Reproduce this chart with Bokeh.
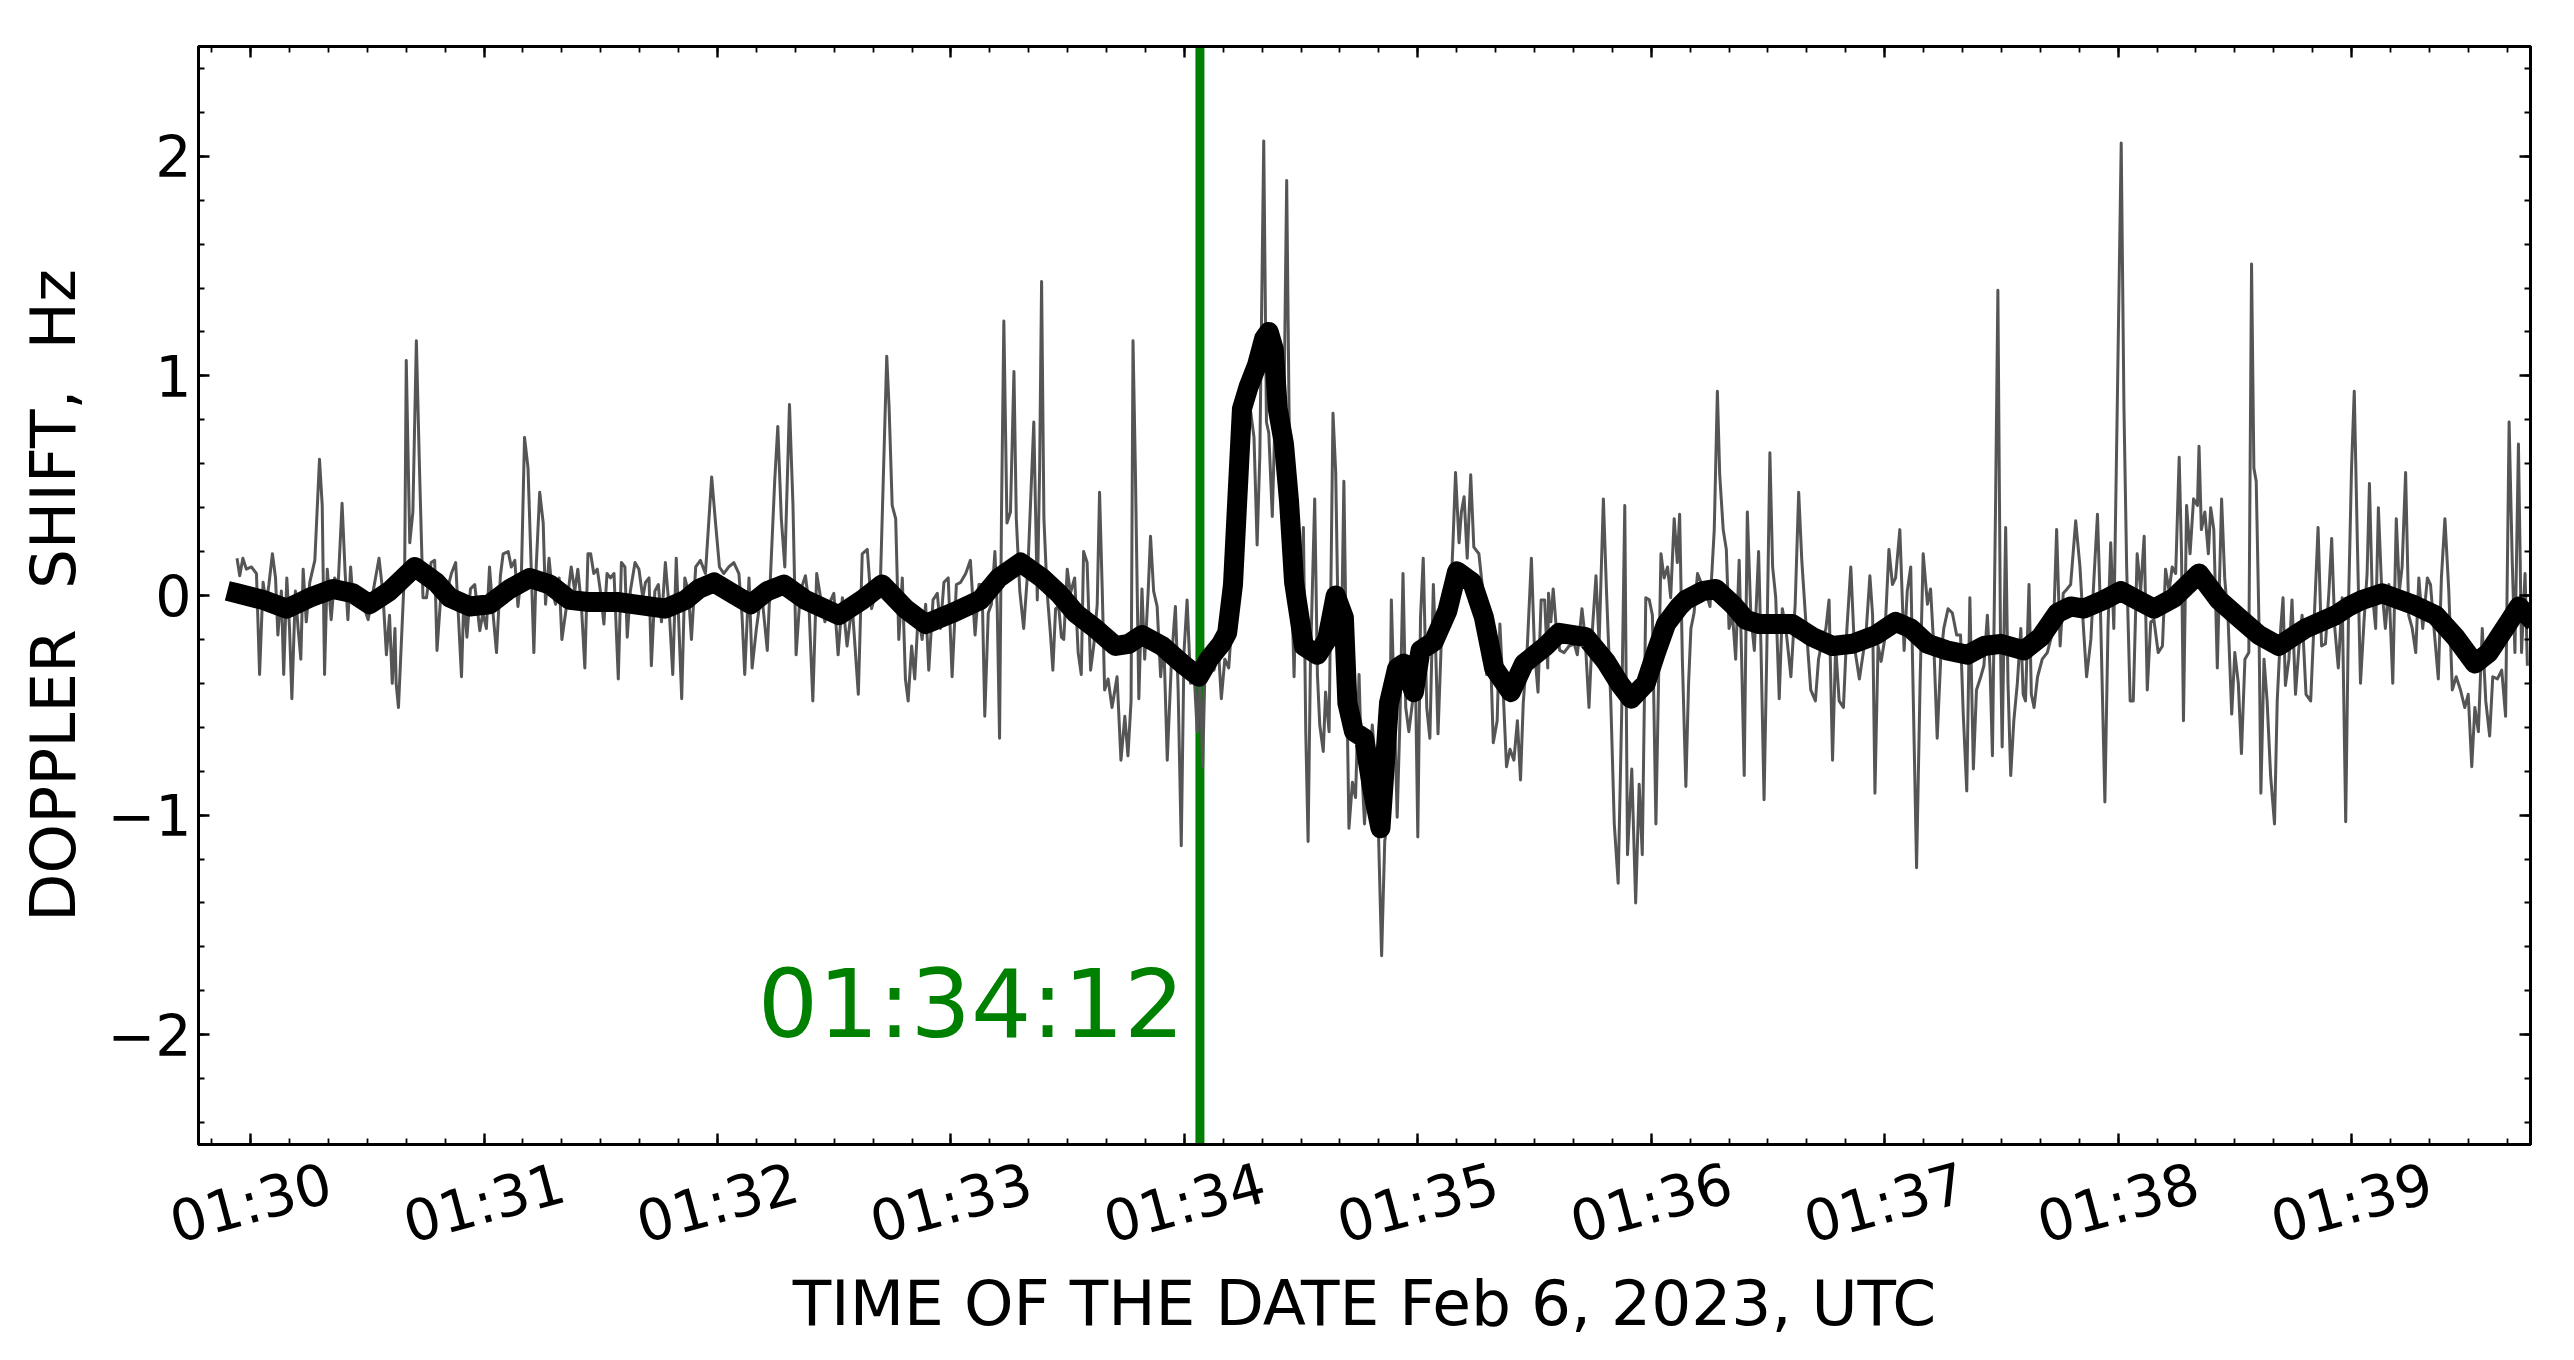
import math
from bokeh.plotting import figure
from bokeh.models import Range1d, LinearAxis, FixedTicker, Span, Label
from bokeh.embed import file_html
from bokeh.resources import INLINE

# Time is given in seconds after 01:30:00 UTC, Feb 6, 2023
x_tick_seconds = [0, 60, 120, 180, 240, 300, 360, 420, 480, 540]
x_tick_labels = ["01:30", "01:31", "01:32", "01:33", "01:34",
                 "01:35", "01:36", "01:37", "01:38", "01:39"]
y_ticks = [-2, -1, 0, 1, 2]
y_tick_labels = ["\u22122", "\u22121", "0", "1", "2"]

event_second = 244
event_label = "01:34:12"

x_title = "TIME OF THE DATE Feb 6, 2023, UTC"
y_title = "DOPPLER\u00a0 SHIFT,\u00a0 Hz"

# raw Doppler shift (grey)
gray_seconds = [
    -3.5, -2.8, -2.0, -1.1, 0.2, 1.5, 2.3, 3.2, 4.0, 4.7, 5.6, 6.4, 7.0, 7.9, 8.5, 9.3, 10.0, 10.6, 11.5, 12.2,
    12.9, 13.5, 14.3, 15.2, 16.5, 17.7, 18.4, 19.0, 19.7, 20.7, 21.6, 22.5, 23.5, 24.3, 25.0, 25.7, 26.3, 27.6,
    28.9, 30.2, 31.4, 33.0, 34.0, 34.9, 35.7, 36.4, 37.1, 37.4, 38.0, 38.7, 39.6, 40.0, 40.9, 41.7, 42.6, 43.4,
    44.3, 45.2, 46.4, 47.3, 47.9, 49.0, 50.3, 51.6, 52.7, 54.2, 54.8, 55.6, 56.5, 57.6, 58.9, 59.7, 60.6, 61.4,
    62.3, 63.2, 64.2, 64.9, 66.2, 67.0, 67.9, 68.7, 69.6, 70.4, 71.3, 72.2, 72.8, 73.4, 74.3, 75.2, 75.8, 76.7,
    77.5, 78.4, 79.3, 80.0, 81.1, 82.4, 83.3, 84.1, 85.0, 85.9, 86.7,
    87.4, 88.2, 89.1, 89.9, 90.8, 91.6, 92.5, 93.4, 94.5, 95.3, 96.2, 96.8, 97.6, 98.8, 99.8, 100.8, 101.5, 102.4,
    103.0, 103.9, 104.8, 105.6, 106.6, 107.5, 108.5, 109.4, 110.1, 110.8, 111.6, 112.5, 113.3, 114.4, 115.6,
    116.9, 118.5, 119.5, 120.5, 121.6, 122.9, 124.2, 125.5, 126.3, 127.0, 128.1, 128.9, 130.0, 131.3, 132.8,
    133.6, 134.7, 135.5, 136.4, 137.3, 138.5, 139.4, 140.2, 141.3, 142.6, 143.5, 144.5, 145.5, 146.5, 147.6,
    148.6, 149.9, 151.0, 152.1, 153.3, 154.6, 156.2, 157.2, 158.5, 159.6, 160.8, 161.9, 163.5, 164.1, 164.9,
    165.8, 166.6, 167.5, 168.3, 169.0, 169.9, 170.7, 171.6, 172.6, 173.5, 174.3, 175.4, 176.5, 177.3, 178.2,
    179.3, 180.3, 181.4, 182.5, 183.8, 185.0, 186.2, 187.2,
    188.0, 188.7, 189.6, 190.4, 191.3, 191.9, 192.5, 193.0, 193.6, 194.4, 195.3, 196.2, 196.8, 197.7, 198.7,
    199.8, 201.3, 202.2, 202.8, 203.3, 203.9, 204.7, 205.6, 206.2, 206.9, 207.7, 208.4, 209.0, 209.9, 210.7,
    211.8, 212.7, 213.5, 214.1, 215.0, 215.9, 216.7, 217.6, 218.2, 218.9, 219.5, 220.4, 221.4, 222.7, 223.7,
    224.7, 225.5, 226.3, 226.8, 227.4, 228.3, 229.1, 229.8, 230.7, 231.3, 232.1, 233.0, 233.9, 234.7, 235.6,
    236.7, 237.7, 238.4, 239.2, 239.9, 240.7, 241.6, 242.4, 243.3, 244.1, 244.7, 245.4, 246.3, 247.6, 248.8,
    249.5, 250.4, 251.4, 252.3, 253.6,
    254.9, 256.2, 257.9, 258.7, 259.4, 260.4, 261.1, 261.7, 262.6, 263.2, 264.3, 265.6, 266.3, 266.9, 267.5,
    268.2, 269.0, 269.9, 270.6, 271.2, 271.8, 272.4, 273.5, 274.2, 274.8, 275.7, 276.3, 277.2, 278.2, 278.9,
    279.5, 280.2, 281.0, 281.7, 282.3, 283.2, 284.0, 284.9, 285.5, 286.3, 287.0, 287.7, 288.3, 289.6, 290.7,
    291.5, 292.6, 293.2, 293.9, 294.7, 295.4, 296.2, 296.9, 297.7, 298.6, 299.3, 300.0, 300.7, 301.4, 302.3,
    303.1, 304.0, 304.6, 305.2, 306.0, 306.7, 307.6, 308.4, 309.0, 309.7, 310.6, 311.2, 311.9, 312.7, 313.6,
    314.4, 315.7, 316.6, 317.7, 318.5, 319.4, 320.4, 321.1, 322.0, 322.8, 323.7, 324.7, 325.6, 326.4, 327.1,
    328.1, 329.2, 330.0, 330.9, 331.7, 332.6, 333.4,
    333.6, 334.2, 334.8, 335.6, 336.5, 337.6, 338.9, 340.2, 341.0, 342.2, 343.0, 344.0, 344.9, 345.8, 346.6,
    347.7, 348.5, 349.6, 350.5, 351.5, 352.4, 353.2, 353.9, 355.0, 356.0, 356.9, 357.7, 358.6, 359.5, 360.3,
    361.2, 362.5, 363.3, 364.2, 365.0, 365.9, 366.7, 367.3, 368.0, 368.9, 369.6, 370.2, 371.0, 371.9, 373.0,
    374.0, 375.1, 376.2, 377.0, 377.6, 378.5, 379.3, 380.0, 380.9, 381.7, 382.6, 383.2, 383.9, 384.7, 385.6,
    386.5, 387.6, 388.2, 389.0, 389.7, 390.5, 391.2, 392.0, 392.9, 393.7, 394.6, 395.9, 397.0, 397.9, 398.7,
    399.7, 401.0, 402.2, 403.0, 404.0, 404.9, 405.7, 406.6, 407.4, 408.3, 409.4, 410.3, 411.3, 412.2, 413.5,
    414.5, 415.3, 416.2, 416.9, 417.5,
    418.3, 419.1, 420.0, 421.1, 422.0, 422.8, 423.9, 425.0, 425.8, 426.7, 427.4, 428.2, 429.1, 429.9, 431.0,
    431.8, 432.7, 433.5, 434.4, 435.2, 436.3, 437.4, 438.5, 439.5, 440.2, 441.1, 441.9, 442.8, 443.6, 444.7,
    445.5, 446.4, 447.1, 447.7, 448.5, 449.1, 449.8, 450.2, 451.1, 451.7, 452.4, 453.2, 454.1, 455.0, 455.6,
    456.2, 457.1, 457.7, 458.4, 459.3, 460.5, 461.8, 463.4, 464.2, 465.1, 465.9, 466.9, 467.8, 469.1, 470.2,
    471.1, 471.9, 473.0, 473.8, 474.7, 475.5, 476.6, 477.4, 478.1, 478.9, 479.8, 480.8, 481.5, 482.2, 483.1,
    483.9, 484.9, 485.8, 486.7, 487.5, 488.4, 489.2, 490.3, 491.4, 492.2, 493.1, 493.9, 494.8, 495.7, 496.3,
    496.8, 497.6, 498.5, 499.4, 500.4,
    500.8, 501.4, 502.3, 503.2, 503.8, 504.6, 505.5, 506.6, 507.4, 508.3, 509.2, 510.0, 510.9, 511.7, 512.6,
    513.6, 514.3, 514.9, 515.5, 516.2, 516.7, 517.5, 518.3, 519.2, 520.2, 520.9, 521.8, 522.4, 523.0, 523.9,
    524.7, 525.6, 526.5, 527.3, 528.3, 529.5, 530.3, 531.4, 532.3, 533.3, 534.2, 534.9, 535.7, 536.6, 537.6,
    538.5, 539.3, 540.0, 540.7, 541.5, 542.3, 543.2, 544.0, 544.6, 545.3, 546.2, 546.9, 547.7, 548.7, 549.6,
    550.6, 551.5, 552.3, 553.0, 553.9, 554.7, 555.6, 556.5, 557.3, 558.3, 559.5, 560.3, 561.2, 562.3, 563.1,
    564.0, 565.0, 565.9, 566.9, 568.0, 569.1, 570.0, 570.9, 571.7, 572.6, 573.6, 574.5, 575.5, 576.3, 577.5,
    578.6, 579.6, 580.5, 581.3, 582.0, 582.9, 583.7, 584.6, 585.2,
]
gray_doppler = [
    0.17, 0.09, 0.17, 0.12, 0.13, 0.10, -0.36, 0.06, -0.04, 0.05, 0.19, 0.08, -0.18, 0.02, -0.36, 0.08, -0.15, -0.47, 0.02, -0.15,
    -0.29, 0.12, -0.12, 0.06, 0.16, 0.62, 0.41, -0.36, 0.12, -0.11, 0.08, 0.05, 0.42, 0.10, -0.11, 0.13, -0.02, 0.02,
    -0.04, -0.11, 0.01, 0.17, 0.01, -0.27, -0.09, -0.40, -0.15, -0.40, -0.51, -0.23, 0.13, 1.07, 0.24, 0.38, 1.16, 0.58,
    -0.01, -0.01, 0.15, 0.16, -0.25, 0.03, 0.01, 0.10, 0.15, -0.37, -0.01, -0.19, 0.03, 0.05, -0.16, -0.08, -0.15, 0.13,
    -0.08, -0.26, 0.09, 0.19, 0.20, 0.13, 0.16, -0.05, 0.10, 0.72, 0.58, 0.08, -0.26, 0.13, 0.47, 0.33, -0.04, 0.17,
    0.02, -0.04, 0.08, -0.20, -0.06, 0.13, 0.02, 0.12, -0.04, -0.33, 0.19,
    0.19, 0.10, 0.12, 0.02, -0.13, 0.10, 0.08, 0.10, -0.38, 0.15, 0.13, -0.19, 0.02, 0.15, 0.12, -0.01, 0.06, 0.08,
    -0.32, 0.02, 0.05, -0.12, 0.15, -0.04, -0.36, 0.17, -0.15, -0.47, 0.08, 0.02, -0.20, 0.13, 0.16,
    0.10, 0.54, 0.33, 0.13, 0.10, 0.13, 0.15, 0.10, -0.09, -0.36, 0.08, -0.33, -0.15, 0.02, -0.25,
    0.08, 0.52, 0.77, 0.35, 0.13, 0.87, 0.41, -0.27, 0.02, 0.09, -0.04, -0.48, 0.10, -0.01, -0.12,
    -0.04, 0.01, -0.27, -0.01, -0.23, -0.04, -0.45, 0.19, 0.21, -0.06, 0.02, 0.08, 1.09, 0.86, 0.41,
    0.35, -0.20, 0.08, -0.38, -0.48, -0.23, -0.38, -0.08, -0.20, -0.04, -0.34, -0.02, 0.01, -0.15, 0.06,
    0.08, -0.37, 0.05, 0.06, 0.10, 0.16, -0.18, 0.05,
    0.05, -0.55, -0.08, -0.04, 0.20, -0.06, -0.65, 0.38, 1.25, 0.33, 0.38, 1.02, 0.35, 0.02, -0.15,
    0.13, 0.79, -0.02, 0.58, 1.43, 0.35, 0.02, -0.18, -0.34, -0.06, -0.05, -0.19, -0.20, 0.12, 0.01,
    0.08, -0.26, -0.36, 0.20, 0.15, -0.34, -0.23, -0.04, 0.47, 0.02, -0.43, -0.38, -0.51, -0.37, -0.75,
    -0.55, -0.73, -0.48, 1.16, 0.58, -0.47, 0.03, -0.29, 0.02, 0.27, 0.02, -0.05, -0.37, -0.20, -0.75,
    -0.29, -0.05, -0.43, -1.14, -0.26, -0.02, -0.40, -0.32, -0.62, -0.37, -0.78, -0.26, -0.23, -0.34, -0.26,
    -0.47, -0.29, -0.33, -0.10, 0.43,
    0.90, 0.95, 0.72, 0.23, 0.64, 2.07, 0.79, 0.74, 0.36, 0.74, 0.90, 0.85, 1.89, 0.85, 0.09,
    -0.37, 0.27, -0.04, 0.31, -0.62, -1.12, -0.31, 0.44, -0.36, -0.59, -0.71, -0.44, -0.62, 0.83, 0.56,
    -0.10, -0.41, 0.52, -0.36, -1.06, -0.85, -0.92, -0.36, -0.75, -1.04, -0.83, -0.75, -0.59, -0.88, -1.64,
    -1.12, -0.96, -0.02, -0.46, -1.01, -0.57, 0.10, -0.51, -0.62, -0.49, -0.25, -1.10, -0.10, 0.17, -0.51,
    -0.65, 0.05, -0.25, -0.63, -0.23, -0.04, 0.01, -0.02, 0.22, 0.56, 0.24, 0.38, 0.45, 0.17, 0.55,
    0.22, 0.19, 0.04, -0.36, -0.16, -0.67, -0.57, -0.13, -0.46, -0.78, -0.70, -0.75, -0.57, -0.84, -0.49,
    -0.25, 0.17, -0.25, -0.44, -0.02, -0.02, -0.33,
    0.01, -0.12, 0.03, -0.15, -0.25, -0.26, -0.23, -0.22, -0.27, -0.06, -0.19, -0.51, -0.15, 0.09, -0.22,
    0.44, 0.02, -0.48, -1.04, -1.31, -0.54, 0.41, -1.18, -0.79, -1.40, -0.86, -1.18, -0.01, -0.02, -0.09,
    -1.04, 0.19, 0.08, 0.13, -0.01, 0.35, 0.15, 0.37, -0.29, -0.87, -0.40, -0.15, -0.08, 0.10, 0.05,
    0.02, -0.05, 0.30, 0.93, 0.55, 0.30, 0.21, -0.15, -0.09, -0.29, 0.16, -0.26, -0.82, 0.38, -0.09,
    -0.25, 0.20, -0.23, -0.93, -0.26, 0.65, 0.13, -0.01, -0.47, -0.06, -0.15, -0.37, -0.04, 0.47, 0.16,
    -0.11, -0.43, -0.48, -0.29, -0.20, -0.15, -0.02, -0.75, -0.23, -0.48, -0.51, -0.15, 0.13, -0.23, -0.38,
    -0.26, -0.15, 0.09, -0.09, -0.90,
    -0.23, -0.30, -0.20, 0.21, 0.05, 0.08, 0.30, -0.25, 0.02, 0.13, -0.51, -1.24, -0.40, 0.19, -0.04,
    0.03, -0.26, -0.65, -0.29, -0.15, -0.06, -0.08, -0.18, -0.18, -0.54, -0.89, -0.01, -0.79, -0.43, -0.37,
    -0.32, -0.09, -0.34, -0.73, 0.41, 1.39, -0.26, -0.69, 0.31, -0.40, -0.82, -0.57, -0.40, -0.15, -0.45,
    -0.48, 0.05, -0.45, -0.51, -0.37, -0.29, -0.26, -0.15, 0.30, -0.23, 0.01, 0.03, 0.05, 0.34, 0.13,
    -0.15, -0.37, -0.20, 0.08, 0.37, -0.09, -0.94, -0.15, 0.24, -0.15, 0.88, 2.06, 0.86, 0.13, -0.48,
    -0.48, 0.19, 0.02, 0.27, -0.43, -0.12, -0.11, -0.26, -0.23, 0.12, 0.02, 0.13, 0.10, 0.63, 0.19,
    -0.57, 0.41, 0.19, 0.44, 0.41,
    0.68, 0.30, 0.38, 0.19, 0.40, 0.30, -0.33, 0.44, 0.08, -0.12, -0.54, -0.26, -0.40, -0.72, -0.29,
    -0.26, 1.51, 0.58, 0.52, -0.12, -0.90, -0.29, -0.48, -0.82, -1.04, -0.48, -0.15, -0.01, -0.41, -0.29,
    -0.02, -0.45, -0.23, -0.09, -0.45, -0.48, -0.15, 0.31, -0.23, -0.22, 0.02, 0.26, -0.15, -0.33, -0.01,
    -1.03, 0.02, 0.58, 0.93, 0.24, -0.40, -0.12, 0.10, 0.51, 0.02, -0.15, 0.40, 0.05, -0.15, 0.05,
    -0.40, 0.35, 0.02, 0.13, 0.56, -0.09, -0.15, -0.26, 0.08, -0.15, 0.08, 0.05, -0.15, -0.38, 0.08,
    0.35, 0.02, -0.43, -0.37, -0.43, -0.51, -0.45, -0.78, -0.51, -0.62, -0.15, -0.48, -0.64, -0.37, -0.38,
    -0.34, -0.55, 0.79, 0.16, -0.26, 0.69, -0.26, 0.10, -0.32,
]

# smoothed Doppler shift (black)
smooth_seconds = [
    -3.5, 3.2, 9.2, 15.2, 21.2, 26.3, 30.6, 35.7, 42.2, 47.7, 51.2, 56.3, 61.4, 66.6, 71.7, 76.9, 82.0, 87.1,
    94.6, 106.6, 111.8, 115.2, 119.1, 123.8, 128.5, 132.8, 137.1, 142.6, 151.2, 157.2, 162.3, 168.3, 173.5, 180.3,
    187.6, 192.3, 197.9, 203.4, 207.7, 212.0, 217.1, 222.3, 225.7, 229.1, 234.3, 239.4, 243.7, 246.3, 249.5, 251.0, 252.5,
    253.5, 254.8, 256.5, 258.7, 260.5, 261.7, 263.0, 264.0, 265.6, 266.9, 268.2, 270.7, 274.2, 276.7,
    278.9, 281.0, 281.9, 283.6, 286.2, 288.3, 290.4, 291.3, 292.6, 294.7, 296.4, 299.0, 300.7, 304.1,
    307.6, 310.1, 314.0, 317.0, 319.6, 323.9, 327.3, 332.9, 336.3, 343.2, 348.3, 351.8, 354.8, 358.6, 361.2, 363.8,
    367.2, 368.9, 373.2, 376.6, 380.9, 384.3, 387.7, 396.3, 401.5, 406.6, 411.7, 417.7, 422.8, 426.7, 431.0, 436.1,
    441.3, 445.5, 449.8, 455.8,
    460.1, 464.4, 467.8, 471.2, 476.4, 480.7, 484.9, 489.2, 494.4, 500.8, 505.9, 511.0, 516.2, 521.3, 524.7, 528.2,
    535.9, 539.3, 542.7, 547.9, 555.6,
    561.6, 566.7, 571.7, 575.3, 580.5, 583.0, 585.2,
]
smooth_doppler = [
    0.01, -0.02, -0.06, -0.01, 0.03, 0.01, -0.04, 0.02, 0.13, 0.06, -0.01, -0.05, -0.04, 0.03, 0.08, 0.05, -0.02, -0.03,
    -0.03, -0.06, -0.02, 0.03, 0.06, 0.01, -0.04, 0.02, 0.05, -0.02, -0.09, -0.02, 0.05, -0.06, -0.13, -0.08,
    -0.02, 0.08, 0.15, 0.08, 0.01, -0.08, -0.15, -0.23, -0.22, -0.18, -0.23, -0.31, -0.37, -0.29, -0.22, -0.17, 0.05,
    0.40, 0.85, 0.95, 1.05, 1.17, 1.20, 1.12, 0.85, 0.69, 0.43, 0.06, -0.23, -0.27, -0.20,
    0.00, -0.10, -0.49, -0.62, -0.65, -0.88, -1.06, -0.83, -0.49, -0.33, -0.31, -0.44, -0.25, -0.21,
    -0.07, 0.11, 0.06, -0.10, -0.33, -0.44, -0.31, -0.23, -0.17, -0.19, -0.30, -0.40, -0.47, -0.40, -0.26, -0.13,
    -0.05, -0.02, 0.02, 0.03, -0.04, -0.11, -0.13, -0.13, -0.19, -0.23, -0.22, -0.18, -0.12, -0.15, -0.22, -0.25,
    -0.27, -0.23, -0.22, -0.25,
    -0.19, -0.08, -0.05, -0.06, -0.02, 0.02, -0.02, -0.06, -0.01, 0.10, -0.02, -0.10, -0.18, -0.23, -0.19, -0.15,
    -0.09, -0.05, -0.02, 0.01, -0.04,
    -0.09, -0.19, -0.31, -0.26, -0.12, -0.05, -0.09,
]

FONT = "DejaVu Sans"
# Bokeh anchors a rotated bottom-axis label at its right end; shifting the label
# axis by this many seconds centres each slanted label under its tick mark.
LABEL_SHIFT_S = 20.4

p = figure(
    frame_width=2332, frame_height=1098,
    x_range=Range1d(-13.4, 586.0), y_range=Range1d(-2.5, 2.5),
    output_backend="svg", toolbar_location=None,
    min_border_left=198, min_border_top=46, min_border_right=30, min_border_bottom=214,
    background_fill_color="white", border_fill_color="white",
)
bottom_axis = p.below[0]
left_axis = p.left[0]
p.xgrid.visible = False
p.ygrid.visible = False
p.outline_line_color = "black"
p.outline_line_width = 3

x_minor = [s for s in range(-10, 590, 10)]
y_minor = [round(-2.4 + 0.2 * i, 1) for i in range(25)]

top_axis = LinearAxis()
right_axis = LinearAxis()
p.add_layout(top_axis, "above")
p.add_layout(right_axis, "right")

for ax in [bottom_axis, top_axis]:
    ax.ticker = FixedTicker(ticks=x_tick_seconds, minor_ticks=x_minor)
for ax in [left_axis, right_axis]:
    ax.ticker = FixedTicker(ticks=y_ticks, minor_ticks=y_minor)

for ax in [bottom_axis, left_axis, top_axis, right_axis]:
    ax.axis_line_color = "black"
    ax.axis_line_width = 3
    ax.major_tick_in = 11
    ax.major_tick_out = 0
    ax.minor_tick_in = 6
    ax.minor_tick_out = 0
    ax.major_tick_line_width = 2.4
    ax.minor_tick_line_width = 1.8
    ax.major_tick_line_color = "black"
    ax.minor_tick_line_color = "black"
    ax.major_label_text_font = FONT
    ax.major_label_text_color = "black"
    ax.major_label_standoff = 0

for ax in [bottom_axis, top_axis, right_axis]:
    ax.major_label_text_color = None

# time labels: slanted, on their own label-only axis just under the frame
label_pos = [round(s + LABEL_SHIFT_S, 1) for s in x_tick_seconds]
time_axis = LinearAxis(
    ticker=FixedTicker(ticks=label_pos, minor_ticks=[]),
    major_label_overrides=dict(zip(label_pos, x_tick_labels)),
    axis_line_color=None, major_tick_line_color=None, minor_tick_line_color=None,
    major_tick_in=0, major_tick_out=0, minor_tick_in=0, minor_tick_out=0,
    major_label_orientation=math.pi / 12, major_label_standoff=37,
    major_label_text_font=FONT, major_label_text_font_size="57px",
    major_label_text_color="black",
    axis_label=x_title, axis_label_text_font=FONT, axis_label_text_font_size="63px",
    axis_label_text_font_style="normal", axis_label_text_color="black",
    axis_label_standoff=-24,
)
p.add_layout(time_axis, "below")

left_axis.major_label_overrides = dict(zip(y_ticks, y_tick_labels))
left_axis.major_label_text_font_size = "57px"
left_axis.major_label_standoff = 7
left_axis.axis_label = y_title
left_axis.axis_label_text_font = FONT
left_axis.axis_label_text_font_size = "63px"
left_axis.axis_label_text_font_style = "normal"
left_axis.axis_label_text_color = "black"
left_axis.axis_label_standoff = 14

event_line = Span(location=event_second, dimension="height",
                  line_color="green", line_width=9, level="underlay")
p.add_layout(event_line)

p.line(gray_seconds, gray_doppler, line_color="#555555", line_width=3, line_join="round")
p.line(smooth_seconds, smooth_doppler, line_color="black", line_width=20,
       line_join="round", line_cap="square")

event_text = Label(x=240, y=-2.0, y_offset=31, text=event_label, text_align="right",
                   text_baseline="alphabetic", text_font=FONT, text_font_size="95px",
                   text_color="green")
p.add_layout(event_text)

open("out.html", "w").write(file_html(p, INLINE))
